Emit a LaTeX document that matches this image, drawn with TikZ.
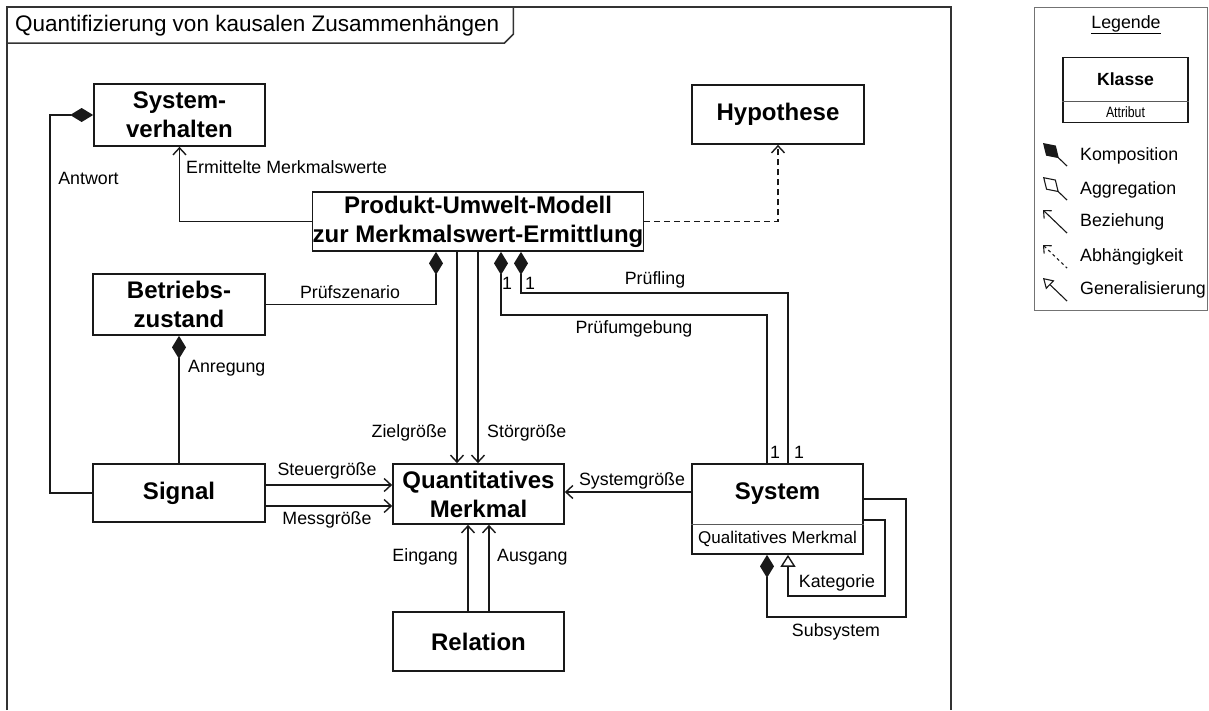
\documentclass[tikz,border=0pt]{standalone}
\usepackage{fontspec}
\setmainfont{Liberation Sans}
\newfontfamily\narrowfont[FakeStretch=0.82]{Liberation Sans}
\usetikzlibrary{arrows.meta,calc}

\newcommand\boxfont{\fontsize{24}{29}\selectfont\bfseries}
\newcommand\labfont{\fontsize{17.8}{21}\selectfont}
\newcommand\titlefont{\fontsize{22.5}{27}\selectfont}
\newcommand\attrfont{\fontsize{17}{20}\selectfont}
\newcommand\legbold{\fontsize{17.6}{21}\selectfont\bfseries}
\newcommand\smallattr{\narrowfont\fontsize{15}{17}\selectfont}

\begin{document}
\begin{tikzpicture}[x=1pt,y=-1pt,
  cls/.style={draw=black!90, line width=1.7pt, inner sep=0pt, align=center, font=\boxfont},
  conn/.style={draw=black!90, line width=1.4pt},
  assoc/.style={conn, -{Straight Barb[length=7pt,width=13pt]}},
  comp/.style={conn, {Diamond[length=23pt,width=14pt]}-},
  gen/.style={conn, -{Triangle[open,length=12pt,width=15pt]}},
  dep/.style={conn, dash pattern=on 6pt off 4pt, -{Straight Barb[length=7pt,width=13pt]}},
  lab/.style={font=\labfont, inner sep=0pt},
  framestyle/.style={draw=black!80, line width=2pt},
  legicon/.style={draw=black!90, line width=1.1pt},
]
\useasboundingbox (0,0) rectangle (1209,710);

% outer frame with title tab
\draw[framestyle] (7,710) -- (7,7) -- (951,7) -- (951,710);
\node[font=\titlefont, anchor=west, inner sep=0pt] (title) at (15,26) {Quantifizierung von kausalen Zusammenhängen};
\coordinate (tabx) at ([xshift=14pt]title.east);
\coordinate (tabB) at (tabx |- 0,43);
\draw[framestyle, line width=1.5pt] (7,43) -- ([xshift=-9pt]tabB) -- ([yshift=9pt]tabB) -- (tabx |- 0,7);

% classes
\node[cls, minimum width=171, minimum height=62] (sv) at (179.5,115) {System-\\verhalten};
\node[cls, minimum width=172, minimum height=61] (bz) at (179,304.5) {Betriebs-\\zustand};
\node[cls, minimum width=172, minimum height=58] (sig) at (179,493) {Signal};
\node[cls, minimum width=310, minimum height=59] (pum) at (478,221.5) {Produkt-Umwelt-Modell\\zur Merkmalswert-Ermittlung};
\node[cls, minimum width=172, minimum height=59] (hyp) at (778,114.5) {Hypothese};
\node[cls, minimum width=171, minimum height=60] (qm) at (478.5,494) {Quantitatives\\Merkmal};
\node[cls, minimum width=171, minimum height=59] (relation) at (478.5,641.5) {Relation};
\node[cls, minimum width=171, minimum height=90] (sys) at (777.5,509) {};
\node[font=\boxfont, inner sep=0pt] (systitle) at (777.5,494) {System};
\node[font=\attrfont, inner sep=0pt] (sysattr) at (777.5,539) {Qualitatives Merkmal};
\draw[line width=1pt, black!65] (sys.west |- 0,524) -- (sys.east |- 0,524);

% connectors
\draw[comp] (sv.west) -- ++(-43,0) |- (sig.west);
\draw[assoc] (pum.west) -| (sv.south);
\draw[dep] (pum.east) -| (hyp.south);
\draw[comp] (pum.south -| 436,0) |- (bz.east);
\draw[assoc] (pum.south -| 457,0) -- (qm.north -| 457,0);
\draw[assoc] (pum.south -| 478,0) -- (qm.north -| 478,0);
\draw[comp] (pum.south -| 501,0) |- (767,315) -- (sys.north -| 767,0);
\draw[comp] (pum.south -| 521,0) |- (788,293) -- (sys.north -| 788,0);
\draw[assoc] (sig.east |- 0,485) -- (qm.west |- 0,485);
\draw[assoc] (sig.east |- 0,506) -- (qm.west |- 0,506);
\draw[assoc] (sys.west |- 0,492) -- (qm.east |- 0,492);
\draw[assoc] (relation.north -| 468,0) -- (qm.south -| 468,0);
\draw[assoc] (relation.north -| 489,0) -- (qm.south -| 489,0);
\draw[comp] (bz.south) -- (sig.north);
\draw[gen] (sys.east |- 0,520) -| (885,596) -| (sys.south -| 788,0);
\draw[comp] (sys.south -| 767,0) |- (906,617) |- (sys.east |- 0,499);

% connector labels
\node[lab] (lAntwort) at (88.5,178) {Antwort};
\node[lab, anchor=west] (lErm) at (186,167) {Ermittelte Merkmalswerte};
\node[lab] (lPsz) at (350,292) {Prüfszenario};
\node[lab, anchor=west] (lAnr) at (188,368) {Anregung};
\node[lab, anchor=east] (lZiel) at (447,433) {Zielgröße};
\node[lab, anchor=west] (lStoer) at (487,433) {Störgröße};
\node[lab] (lSteuer) at (327,471) {Steuergröße};
\node[lab] (lMess) at (327,520) {Messgröße};
\node[lab] (lSysg) at (632,481) {Systemgröße};
\node[lab, anchor=east] (lEin) at (458,557) {Eingang};
\node[lab, anchor=west] (lAus) at (497,557) {Ausgang};
\node[lab] (lPrl) at (655,280) {Prüfling};
\node[lab] (lPru) at (634,329) {Prüfumgebung};
\node[lab] (lKat) at (837,583) {Kategorie};
\node[lab] (lSub) at (836,632) {Subsystem};
\node[lab] (m1) at (507,283) {1};
\node[lab] (m2) at (530,283) {1};
\node[lab] (m3) at (775,452) {1};
\node[lab] (m4) at (799,452) {1};

% legend
\draw[draw=black!55, line width=1pt] (1034,7) rectangle (1207,310);
\node[font=\labfont, inner sep=0pt] (leg) at (1126,25) {\underline{Legende}};
\node[draw=black!90, line width=1.3pt, minimum width=125, minimum height=65, inner sep=0pt] (kl) at (1125.5,90) {};
\node[font=\legbold, inner sep=0pt] (klname) at (1125.5,79) {Klasse};
\draw[line width=0.8pt, black!65] (kl.west |- 0,101) -- (kl.east |- 0,101);
\node[font=\smallattr, inner sep=0pt] (klattr) at (1125.5,112) {Attribut};

\coordinate (k1) at (1043,143); \coordinate (k2) at (1067,166);
\coordinate (a1) at (1043,177); \coordinate (a2) at (1067,200);
\coordinate (b1) at (1043,210); \coordinate (b2) at (1067,233);
\coordinate (d1) at (1043,245); \coordinate (d2) at (1067,268);
\coordinate (g1) at (1043,278); \coordinate (g2) at (1067,301);
\draw[legicon, {Diamond[length=22pt,width=14pt]}-] (k1) -- (k2);
\draw[legicon, {Diamond[open,length=22pt,width=14pt]}-] (a1) -- (a2);
\draw[legicon, {Straight Barb[length=6pt,width=11pt]}-] (b1) -- (b2);
\draw[legicon, dash pattern=on 3pt off 3pt, {Straight Barb[length=6pt,width=11pt]}-] (d1) -- (d2);
\draw[legicon, {Triangle[open,length=10pt,width=12pt]}-] (g1) -- (g2);
\node[lab, anchor=west] at (1080,156) {Komposition};
\node[lab, anchor=west] at (1080,190) {Aggregation};
\node[lab, anchor=west] at (1080,222) {Beziehung};
\node[lab, anchor=west] at (1080,257) {Abhängigkeit};
\node[lab, anchor=west] at (1080,290) {Generalisierung};
\end{tikzpicture}
\end{document}
